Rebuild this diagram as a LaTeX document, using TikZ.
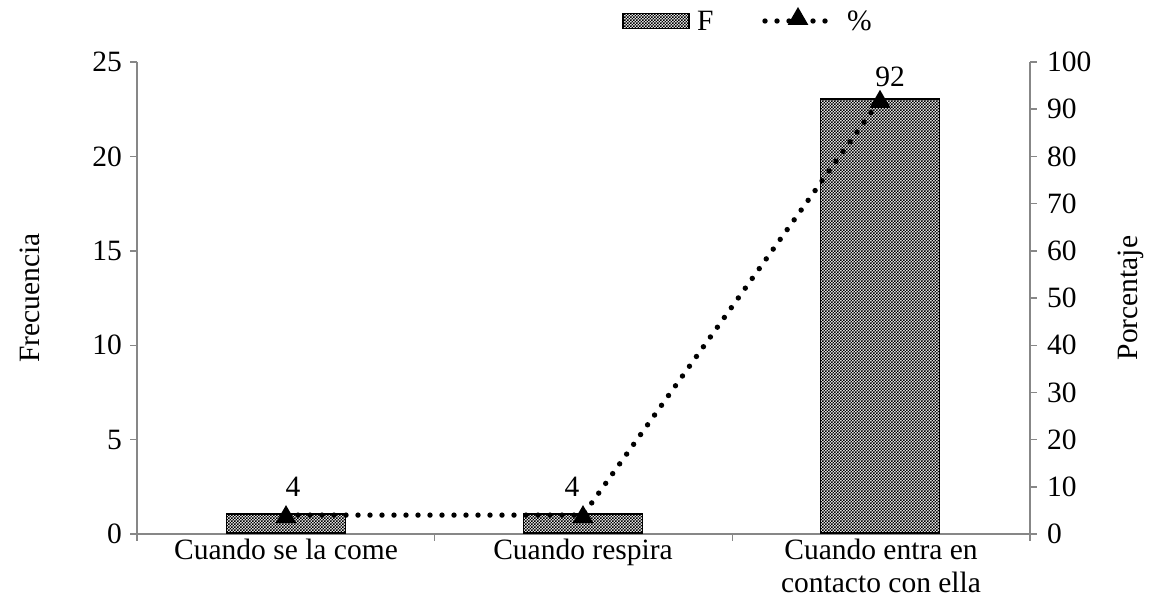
\documentclass[tikz,border=0pt]{standalone}
\usepackage{fontspec}
\setmainfont{Liberation Serif}
\usepackage{xcolor}
\usetikzlibrary{patterns,shapes.geometric}
\definecolor{vblack}{HTML}{000000}
\definecolor{vgray}{HTML}{878787}
\newcommand{\chartfont}{\fontsize{29.5}{34}\selectfont}
\pgfdeclarepatternformonly{finecheck}{\pgfqpoint{-1pt}{-1pt}}{\pgfqpoint{3.1pt}{3.1pt}}{\pgfqpoint{3pt}{3pt}}{
	\pgfpathrectangle{\pgfqpoint{0pt}{0pt}}{\pgfqpoint{1.5pt}{1.5pt}}
	\pgfpathrectangle{\pgfqpoint{1.5pt}{1.5pt}}{\pgfqpoint{1.5pt}{1.5pt}}
	\pgfusepath{fill}}

\begin{document}
\begin{tikzpicture}[x=1pt, y=-1pt,
	every node/.style={font=\chartfont, text=vblack},
	barbox/.style={draw=vblack, line width=1.8pt, pattern=finecheck, pattern color=vblack, inner sep=0pt, minimum width=119pt, anchor=south},
	trimark/.style={regular polygon, regular polygon sides=3, fill=vblack, inner sep=0pt, minimum size=24pt},
	dotline/.style={vblack, line width=5.4pt, line cap=round, dash pattern=on 0pt off 12pt},
	axisline/.style={vgray, line width=1.4pt}]
	\useasboundingbox (0,0) rectangle (1149,615);
	% axes
	\coordinate (o) at (137,534);
	\coordinate (ytop) at (137,62);
	\coordinate (xend) at (1030,534);
	\coordinate (ztop) at (1030,62);
	\draw[axisline] (ytop) -- (o) -- (xend) -- (ztop);
	\foreach \v in {0,5,...,25} {
		\draw[axisline] (130,534-18.88*\v) -- (137,534-18.88*\v);
		\node[anchor=east, inner sep=0pt] (yl\v) at (122,534-18.88*\v) {\v};
	}
	\foreach \v in {0,10,...,100} {
		\draw[axisline] (1030,534-4.72*\v) -- (1037,534-4.72*\v);
		\node[anchor=west, inner sep=0pt] (zl\v) at (1047,534-4.72*\v) {\v};
	}
	\foreach \x in {137,434.7,732.3,1030} {
		\draw[axisline] (\x,534) -- (\x,541);
	}
	\node[rotate=90] (ytitle) at (30,298) {Frecuencia};
	\node[rotate=90] (ztitle) at (1131,298) {Porcentaje};
	% bars (F)
	\node[barbox, minimum height=18.88*1] (bar1) at (286,534) {};
	\node[barbox, minimum height=18.88*1] (bar2) at (583,534) {};
	\node[barbox, minimum height=18.88*23] (bar3) at (880,534) {};
	% line (%)
	\coordinate (p1) at (286,515.1);
	\coordinate (p2) at (583,515.1);
	\coordinate (p3) at (880,99.8);
	\draw[dotline] (p1) -- (p2) -- (p3);
	\node[trimark] (t1) at ([yshift=-2pt]p1) {};
	\node[trimark] (t2) at ([yshift=-2pt]p2) {};
	\node[trimark] (t3) at ([yshift=-2pt]p3) {};
	\node (v1) at (293,487) {4};
	\node (v2) at (572,487) {4};
	\node (v3) at (890,77) {92};
	% categories
	\node[anchor=base] (c1) at (286,559) {Cuando se la come};
	\node[anchor=base] (c2) at (583,559) {Cuando respira};
	\node[anchor=base, inner sep=0pt] (c3a) at (881,559) {Cuando entra en};
	\node[anchor=base, inner sep=0pt] (c3b) at (881,592) {contacto con ella};
	% legend
	\node[barbox, anchor=center, minimum width=66pt, minimum height=15pt] (legF) at (656,21) {};
	\node[anchor=west, inner sep=0pt] (legFt) at (697,21) {F};
	\coordinate (legA) at (765,21);
	\coordinate (legB) at (832,21);
	\draw[dotline] (legA) -- (legB);
	\node[trimark] (legT) at (798,19) {};
	\node[anchor=west, inner sep=0pt] (legPt) at (847,21) {\%};
\end{tikzpicture}
\end{document}
